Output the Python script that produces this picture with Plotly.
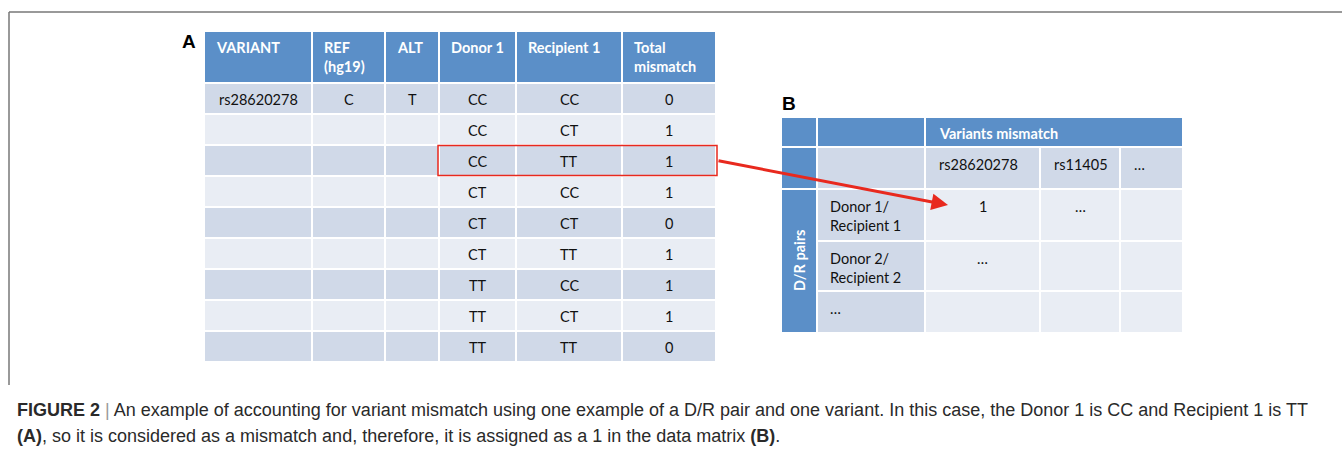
import plotly.graph_objects as go

W, H = 1342, 450

# ---------------- data: table A ----------------
a_headers = ["VARIANT", "REF<br>(hg19)", "ALT", "Donor 1", "Recipient 1", "Total<br>mismatch"]
a_variant = ["rs28620278", "", "", "", "", "", "", "", ""]
a_ref = ["C", "", "", "", "", "", "", "", ""]
a_alt = ["T", "", "", "", "", "", "", "", ""]
a_donor = ["CC", "CC", "CC", "CT", "CT", "CT", "TT", "TT", "TT"]
a_recipient = ["CC", "CT", "TT", "CC", "CT", "TT", "CC", "CT", "TT"]
a_total = [0, 1, 1, 1, 0, 1, 1, 1, 0]
a_highlight_row = 2

# ---------------- data: table B ----------------
b_title = "Variants mismatch"
b_side = "D/R pairs"
b_variants = ["rs28620278", "rs11405", "…"]
b_pairs = ["Donor 1/<br>Recipient 1", "Donor 2/<br>Recipient 2", "…"]
b_values = [["1", "…", ""], ["…", "", ""], ["", "", ""]]
b_target = (0, 0)  # (pair row, variant column) that receives the mismatch

caption1 = ("<b>FIGURE 2</b> <span style='color:#9a9a9a'>|</span> An example of accounting for variant mismatch "
            "using one example of a D/R pair and one variant. In this case, the Donor 1 is CC and Recipient 1 is TT")
caption2 = "<b>(A)</b>, so it is considered as a mismatch and, therefore, it is assigned as a 1 in the data matrix <b>(B)</b>."

# ---------------- layout / style ----------------
BLUE = "#5b8fc8"
DARK = "#d0d9e8"
LIGHT = "#e9edf4"
RED = "#e8291e"
TFONT = "Lato"
FS = 14.5

A_X = [204, 312, 385, 439, 516, 622, 716]
A_HEAD = (31, 83)
A_ROWH = 31
B_X = [781, 817, 925, 1040, 1120, 1183]
B_Y = [117, 147, 189, 241, 291, 333]

shapes = []
ann = []


def cell(x0, x1, y0, y1, color, g=1):
    shapes.append(dict(type="rect", xref="x", yref="y", x0=x0 + g, x1=x1 - g, y0=y0 + g, y1=y1 - g,
                       fillcolor=color, line=dict(width=0), layer="below"))


def text(x, y, s, xa="center", ya="middle", color="#111", bold=False, size=FS, angle=0, family=TFONT):
    ann.append(dict(x=x, y=y, xref="x", yref="y", text=f"<b>{s}</b>" if bold else s, showarrow=False,
                    xanchor=xa, yanchor=ya, textangle=angle, align="left",
                    font=dict(family=family, size=size, color=color)))


# frame
shapes.append(dict(type="line", xref="x", yref="y", x0=9, x1=W, y0=12, y1=12, line=dict(color="#777", width=1.5)))
shapes.append(dict(type="line", xref="x", yref="y", x0=9, x1=9, y0=12, y1=385, line=dict(color="#777", width=1.5)))

# ---- table A ----
text(189, 41, "A", bold=True, size=19, color="#000", family="Liberation Sans")
for j, h in enumerate(a_headers):
    cell(A_X[j], A_X[j + 1], A_HEAD[0], A_HEAD[1], BLUE)
    text(A_X[j] + 10, A_HEAD[0] + 6, h, xa="left", ya="top", color="white", bold=True)
cols = [a_variant, a_ref, a_alt, a_donor, a_recipient, [str(v) for v in a_total]]
for i in range(len(a_donor)):
    y0 = A_HEAD[1] + i * A_ROWH
    y1 = y0 + A_ROWH
    color = DARK if i % 2 == 0 else LIGHT
    for j, col in enumerate(cols):
        cell(A_X[j], A_X[j + 1], y0, y1, color)
        if col[i]:
            text((A_X[j] + A_X[j + 1]) / 2, (y0 + y1) / 2 + 1, col[i])

# highlight box
hy0 = A_HEAD[1] + a_highlight_row * A_ROWH
hy1 = hy0 + A_ROWH
shapes.append(dict(type="rect", xref="x", yref="y", x0=A_X[3] - 1, x1=A_X[6] + 1, y0=hy0 + 0.5, y1=hy1 - 0.5,
                   line=dict(color=RED, width=1.5), fillcolor="rgba(0,0,0,0)"))

# ---- table B ----
text(789, 103, "B", bold=True, size=19, color="#000", family="Liberation Sans")
# header row
cell(B_X[0], B_X[1], B_Y[0], B_Y[1], BLUE)
cell(B_X[1], B_X[2], B_Y[0], B_Y[1], BLUE)
cell(B_X[2], B_X[5], B_Y[0], B_Y[1], BLUE)
text(B_X[2] + 12, (B_Y[0] + B_Y[1]) / 2 + 1, b_title, xa="left", color="white", bold=True)
# variant row
cell(B_X[0], B_X[1], B_Y[1], B_Y[2], BLUE)
cell(B_X[1], B_X[2], B_Y[1], B_Y[2], DARK)
for k, v in enumerate(b_variants):
    cell(B_X[2 + k], B_X[3 + k], B_Y[1], B_Y[2], DARK)
    text(B_X[2 + k] + 12, B_Y[1] + 7, v, xa="left", ya="top")
# side header
cell(B_X[0], B_X[1], B_Y[2], B_Y[5], BLUE)
text((B_X[0] + B_X[1]) / 2, (B_Y[2] + B_Y[5]) / 2, b_side, color="white", bold=True, angle=-90)
for r, p in enumerate(b_pairs):
    y0, y1 = B_Y[2 + r], B_Y[3 + r]
    cell(B_X[1], B_X[2], y0, y1, DARK)
    text(B_X[1] + 11, y0 + 7, p, xa="left", ya="top")
    for k in range(len(b_variants)):
        cell(B_X[2 + k], B_X[3 + k], y0, y1, LIGHT)
        if b_values[r][k]:
            text((B_X[2 + k] + B_X[3 + k]) / 2, y0 + 7, b_values[r][k], ya="top")

# arrow from highlight box to target cell
tr, tc = b_target
ann.append(dict(x=B_X[2 + tc] + 23, y=B_Y[2 + tr] + 16, ax=A_X[6] + 1, ay=(hy0 + hy1) / 2,
                xref="x", yref="y", axref="x", ayref="y", showarrow=True, text="",
                arrowhead=2, arrowsize=1.1, arrowwidth=3, arrowcolor=RED, standoff=0))

# caption
text(15, 410, caption1, xa="left", color="#2a2a2a", size=18, family="Liberation Sans")
text(15, 436, caption2, xa="left", color="#2a2a2a", size=18, family="Liberation Sans")

fig = go.Figure()
fig.update_layout(width=W, height=H, margin=dict(l=0, r=0, t=0, b=0), paper_bgcolor="white",
                  plot_bgcolor="white", shapes=shapes, annotations=ann, showlegend=False,
                  xaxis=dict(range=[0, W], visible=False, fixedrange=True),
                  yaxis=dict(range=[H, 0], visible=False, fixedrange=True))
fig.write_html("out.html", config={"displayModeBar": False},
               post_script="document.body.style.margin='0';")
